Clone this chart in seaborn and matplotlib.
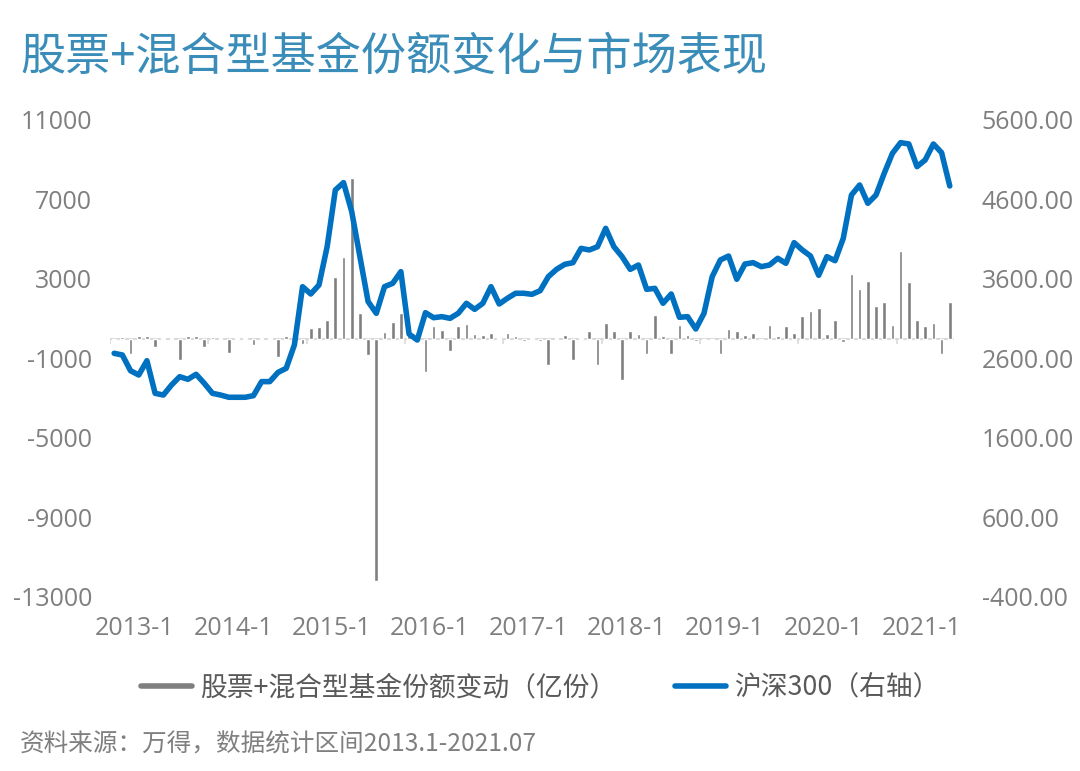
import numpy as np
import pandas as pd
import matplotlib.pyplot as plt
import seaborn as sns
from matplotlib.lines import Line2D

# monthly data 2013.1 - 2021.07
share_change = [-60, 60, -770, 120, 120, -430, 40, 40, -1070, 120, 120, -430,
                80, 40, -700, 40, 40, -330, 40, 40, -920, 130, 30, -260,
                510, 560, 950, 3120, 4130, 8100, 1310, -830, -12200, 310, 820, 1270,
                250, 80, -1660, 640, 440, -640, 620, 750, 230, 170, 300, 50,
                300, 120, -120, 40, -130, -1340, 40, 170, -1075, 40, 370, -1340,
                800, 370, -2100, 370, 235, -770, 1190, 135, -770, 690, 170, -120,
                -60, -60, -770, 500, 370, 185, 300, -60, 690, 135, 640, 300,
                1140, 1410, 1530, 235, 940, -170, 3240, 2490, 2920, 1650, 1850, 690,
                4385, 2870, 940, 640, 760, -770, 1850]
csi300 = [2665, 2644, 2446, 2392, 2572, 2162, 2140, 2266, 2371, 2338, 2401, 2288,
          2162, 2140, 2112, 2112, 2112, 2132, 2309, 2309, 2425, 2476, 2770, 3503,
          3411, 3524, 4006, 4719, 4812, 4447, 3881, 3315, 3168, 3503, 3545, 3692,
          2908, 2832, 3176, 3113, 3126, 3105, 3168, 3294, 3218, 3294, 3503, 3285,
          3357, 3420, 3420, 3407, 3453, 3629, 3721, 3784, 3805, 3985, 3965, 4006,
          4237, 4006, 3881, 3721, 3776, 3470, 3482, 3294, 3411, 3118, 3126, 2971,
          3168, 3629, 3839, 3889, 3596, 3788, 3805, 3755, 3776, 3860, 3797, 4057,
          3965, 3889, 3646, 3881, 3830, 4111, 4656, 4782, 4552, 4656, 4929, 5180,
          5315, 5298, 5013, 5097, 5298, 5189, 4770]
year_labels = ["2013-1", "2014-1", "2015-1", "2016-1", "2017-1",
               "2018-1", "2019-1", "2020-1", "2021-1"]
left_ticks = [11000, 7000, 3000, -1000, -5000, -9000, -13000]
right_ticks = [5600, 4600, 3600, 2600, 1600, 600, -400]

df = pd.DataFrame({"idx": np.arange(len(csi300)),
                   "share": share_change,
                   "csi": csi300})

sns.set_style("white")
plt.rcParams["font.family"] = ["Open Sans", "Noto Sans CJK SC", "DejaVu Sans"]

GRAY = "#7F7F7F"
BLUE = "#0070C0"

fig = plt.figure(figsize=(10.8, 7.71), dpi=100)
ax = fig.add_axes([0.1019, 0.2257, 0.7813, 0.6187])

sns.barplot(data=df, x="idx", y="share", color=GRAY, width=0.45,
            errorbar=None, ax=ax, saturation=1)
ax.axhline(0, color="#D9D9D9", lw=1.5, zorder=0)
# small category ticks on the zero line
bounds = np.arange(0, len(csi300), 12) - 0.5
ax.vlines(bounds, -260, 0, color="#D9D9D9", lw=1.2, zorder=0)

ax.set_xlim(-0.5, len(csi300) - 0.5)
ax.set_ylim(-13000, 11000)
ax.set_yticks(left_ticks, [str(t) for t in left_ticks])
ax.set_xticks(np.arange(len(year_labels)) * 12 + 2.55, year_labels)
ax.tick_params(axis="both", length=0, labelsize=18, labelcolor=GRAY)
ax.tick_params(axis="y", pad=13)
ax.tick_params(axis="x", pad=14)
ax.set_xlabel("")
ax.set_ylabel("")
for s in ax.spines.values():
    s.set_visible(False)

ax2 = ax.twinx()
ax2.set_position([0.1019, 0.2257, 0.7813, 0.6187])
sns.lineplot(data=df, x="idx", y="csi", color=BLUE, lw=4, ax=ax2)
ax2.set_ylim(-400, 5600)
ax2.set_yticks(right_ticks, [f"{t:.2f}" for t in right_ticks])
ax2.tick_params(axis="y", length=0, labelsize=18, labelcolor=GRAY, pad=20)
ax2.set_ylabel("")
ax2.set_xlim(-0.5, len(csi300) - 0.5)
for s in ax2.spines.values():
    s.set_visible(False)

fig.text(0.0185, 1 - 57 / 771, "股票+混合型基金份额变化与市场表现",
         fontsize=32.5, color="#3A8DB8", va="center", ha="left",
         family=["Noto Sans CJK SC", "DejaVu Sans"])

handles = [Line2D([], [], color=GRAY, lw=4),
           Line2D([], [], color=BLUE, lw=4)]
fig.legend(handles, ["股票+混合型基金份额变动（亿份）", "沪深300（右轴）"],
           loc="center", bbox_to_anchor=(0.5, 1 - 688 / 771), ncol=2,
           frameon=False, handlelength=1.9, columnspacing=2.2, handletextpad=0.3,
           prop={"family": ["Noto Sans CJK SC", "DejaVu Sans"], "size": 19.3},
           labelcolor="#595959")

fig.text(0.0185, 1 - 745 / 771, "资料来源：万得，数据统计区间2013.1-2021.07",
         fontsize=17.7, color=GRAY, va="center", ha="left",
         family=["Noto Sans CJK SC", "DejaVu Sans"])

fig.savefig("out.png", dpi=100)
